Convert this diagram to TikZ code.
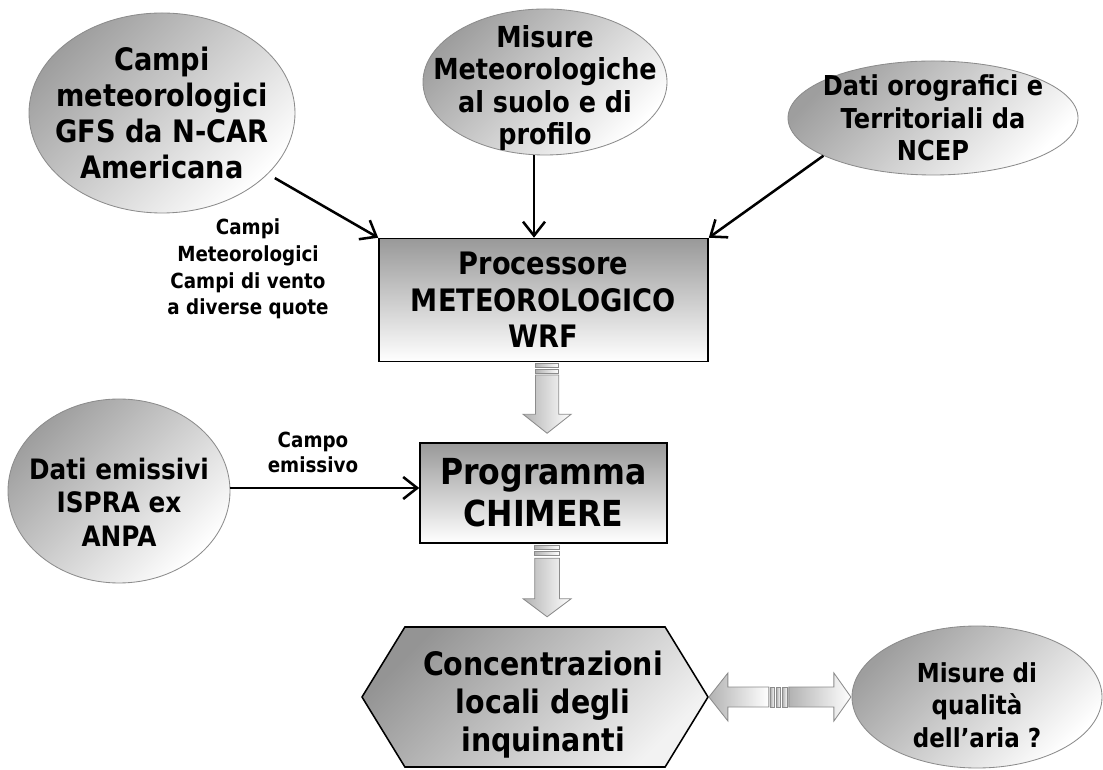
\documentclass[tikz,border=0pt]{standalone}
\usepackage{fontspec}
\newfontfamily\diafont{DejaVu Sans}[FakeStretch=0.88]
\newcommand\fsz[2]{\fontsize{#1}{#2}\selectfont}
\usetikzlibrary{arrows.meta,positioning,calc,shapes.geometric,shapes.symbols}

\begin{document}
\begin{tikzpicture}[
  blob/.style={ellipse,draw=black!45,line width=0.6pt,inner sep=0pt,
               top color=black!38,bottom color=white,shading angle=45},
  txt/.style={align=center,text=black},
  procbox/.style={rectangle,draw=black,line width=1.1pt,align=center,
                  top color=black!40,bottom color=white},
  hexa/.style={signal,signal to=east and west,signal pointer angle=117,
               draw=black,line width=1.1pt,inner sep=0pt,
               top color=black!42,bottom color=black!5,shading angle=45},
  conn/.style={-{Straight Barb[length=3.5mm,width=5.5mm]},line width=1.8pt},
  lbl/.style={align=center,font=\diafont\bfseries\fsz{14.8}{18.9}},
  blk/.style={draw=black!45,line width=0.6pt,left color=black!30,right color=white}]
  \useasboundingbox (0,0) rectangle (27.575,19.225);

  % data sources
  \node[blob,minimum width=6.65cm,minimum height=5cm,
        label={[txt,font=\diafont\bfseries\fsz{22}{25.6}]center:Campi\\meteorologici\\GFS da N-CAR\\Americana}]
        (gfs) at (4.05,16.4) {};
  \node[blob,minimum width=6.1cm,minimum height=3.65cm,
        label={[txt,yshift=-1.5mm,font=\diafont\bfseries\fsz{20.6}{22.8}]center:Misure\\Meteorologiche\\al suolo e di\\profilo}]
        (mis) at (13.625,17.175) {};
  \node[blob,minimum width=7.25cm,minimum height=2.85cm,
        label={[txt,font=\diafont\bfseries\fsz{19.5}{23.1}]center:Dati orografici e\\Territoriali da\\NCEP}]
        (oro) at (23.325,16.275) {};
  \node[blob,minimum width=5.55cm,minimum height=4.6cm,
        label={[txt,yshift=-2.75mm,font=\diafont\bfseries\fsz{20}{23.8}]center:Dati emissivi\\ISPRA ex\\ANPA}]
        (ema) at (2.975,6.95) {};
  \node[blob,minimum width=6.25cm,minimum height=3.55cm,
        label={[txt,yshift=-2mm,font=\diafont\bfseries\fsz{18.6}{23.1}]center:Misure di\\qualità\\dell’aria ?}]
        (aria) at (24.425,1.8) {};

  % models
  \node[procbox,minimum width=8.225cm,minimum height=3.075cm,
        font=\diafont\bfseries\fsz{22}{26}] (wrf) at (13.5875,11.725)
        {Processore\\METEOROLOGICO\\WRF};
  \node[procbox,minimum width=6.175cm,minimum height=2.5cm,
        font=\diafont\bfseries\fsz{25.5}{29.9}] (chim) at (13.5875,6.9)
        {Programma\\CHIMERE};
  \node[hexa,minimum width=8.65cm,minimum height=3.5cm,
        label={[txt,xshift=2mm,yshift=-2mm,font=\diafont\bfseries\fsz{23}{27}]center:Concentrazioni\\locali degli\\inquinanti}]
        (conc) at (13.375,1.8) {};

  % inputs
  \draw[conn,shorten <=2mm] (gfs) -- (wrf.north west);
  \draw[conn] ([xshift=-2.75mm]mis.south) -- ([xshift=-2.75mm]mis.south |- wrf.north);
  \draw[conn] (oro.199) -- (wrf.north east);
  \coordinate (in) at ([yshift=1.25mm]chim.west);
  \draw[conn] (ema.east |- in) -- (in);
  \node[lbl] (campilbl) at (6.2,12.5)
        {Campi\\Meteorologici\\Campi di vento\\a diverse quote};
  \node[lbl,font=\diafont\bfseries\fsz{14.8}{17.8}] (emislbl) at (7.825,7.925)
        {Campo\\emissivo};

  % wrf -> chimere
  \coordinate (b1) at ([xshift=0.9mm]wrf.south);
  \begin{scope}[shift={(b1)}]
    \draw[blk] (-0.29,-0.02) rectangle (0.29,-0.12);
    \draw[blk] (-0.29,-0.17) rectangle (0.29,-0.27);
    \draw[blk] (-0.29,-0.32) -- (-0.29,-1.3) -- (-0.6,-1.3) -- (0,-1.775)
               -- (0.6,-1.3) -- (0.29,-1.3) -- (0.29,-0.32) -- cycle;
  \end{scope}

  % chimere -> concentrazioni
  \coordinate (b2) at ([xshift=0.9mm]chim.south);
  \begin{scope}[shift={(b2)}]
    \draw[blk] (-0.31,-0.05) rectangle (0.31,-0.15);
    \draw[blk] (-0.31,-0.19) rectangle (0.31,-0.29);
    \draw[blk] (-0.31,-0.36) -- (-0.31,-1.375) -- (-0.6,-1.375) -- (0,-1.825)
               -- (0.6,-1.375) -- (0.31,-1.375) -- (0.31,-0.36) -- cycle;
  \end{scope}

  % concentrazioni <-> misure
  \begin{scope}[shift={(conc.east)}]
    \draw[blk] (0,0) -- (0.475,0.6) -- (0.475,0.25) -- (1.5,0.25)
               -- (1.5,-0.25) -- (0.475,-0.25) -- (0.475,-0.6) -- cycle;
    \draw[blk] (1.54,0.25) rectangle (1.64,-0.25);
    \draw[blk] (1.69,0.25) rectangle (1.79,-0.25);
    \draw[blk] (1.84,0.25) rectangle (1.96,-0.25);
    \draw[blk] (2.0,0.25) -- (3.125,0.25) -- (3.125,0.6) -- (3.55,0)
               -- (3.125,-0.6) -- (3.125,-0.25) -- (2.0,-0.25) -- cycle;
  \end{scope}
\end{tikzpicture}
\end{document}
